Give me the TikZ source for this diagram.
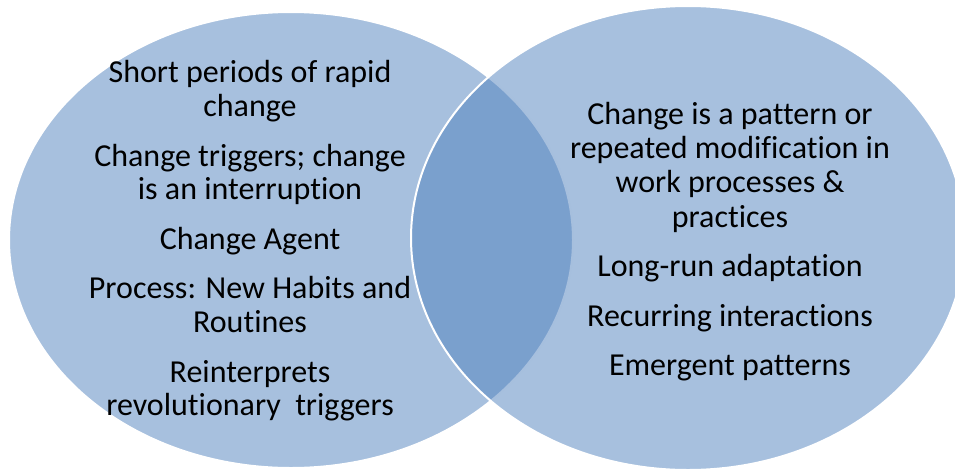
\documentclass[tikz,border=0pt]{standalone}
\usepackage{fontspec}
\setmainfont{Carlito}[Ligatures=NoCommon]
\definecolor{vennblue}{HTML}{4F81BD}

\tikzset{every picture/.style={line width=0.75pt}}
\tikzset{
  vennset/.style={fill=vennblue, fill opacity=0.5, draw=white, line width=1.5pt},
  venntext/.style={align=center, text=black, font=\fontsize{24}{25.2}\selectfont}
}

\begin{document}
\begin{tikzpicture}[x=0.75pt,y=0.75pt,yscale=-1,xscale=1]
\useasboundingbox (0,0) rectangle (955,471);
\clip (0,0) rectangle (955,471);
%Shape: Ellipse left
\draw [vennset] (291,240) ellipse [x radius=282, y radius=228];
%Shape: Ellipse right
\draw [vennset] (688,238) ellipse [x radius=277, y radius=232];
% Text Node left
\node (lefttext) at (250,241) [venntext] {Short periods of rapid\\change\\[12pt]Change triggers; change\\is an interruption\\[12pt]Change Agent\\[12pt]Process: New Habits and\\Routines\\[12pt]Reinterprets\\revolutionary\ \ triggers};
% Text Node right
\node (righttext) at (730,242) [venntext] {Change is a pattern or\\repeated modification in\\work processes \&\\[1pt]practices\\[12pt]Long-run adaptation\\[12pt]Recurring interactions\\[12pt]Emergent patterns};

\end{tikzpicture}
\end{document}
